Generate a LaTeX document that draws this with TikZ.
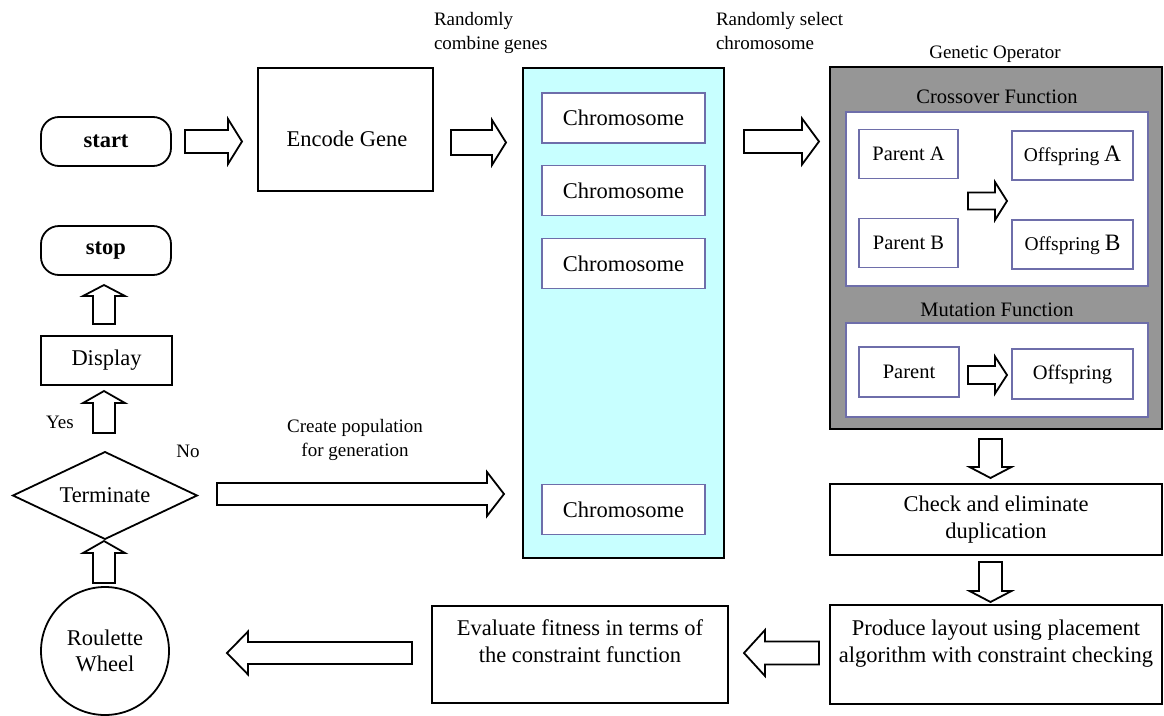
\documentclass[tikz,border=0pt]{standalone}
\usepackage{fontspec}
\setmainfont{Liberation Serif}
\usetikzlibrary{shapes.geometric}

\definecolor{popfill}{RGB}{200,255,255}
\definecolor{opgray}{RGB}{150,150,150}
\definecolor{inedge}{RGB}{110,110,170}

\newcommand\mainfs{\fontsize{22.5}{27}\selectfont}
\newcommand\innerfs{\fontsize{20.5}{25}\selectfont}
\newcommand\notefs{\fontsize{19}{24}\selectfont}
\newcommand\bigletter[1]{{\fontsize{23.5}{25}\selectfont #1}}

% horizontal block arrow: tail x, head-base x, tip x, centre y, shaft half, head half
\newcommand\harr[6]{%
  \draw[blockarrow] (#1,#4-#5) -- (#2,#4-#5) -- (#2,#4-#6) -- (#3,#4)
    -- (#2,#4+#6) -- (#2,#4+#5) -- (#1,#4+#5) -- cycle;}
% vertical block arrow: tail y, head-base y, tip y, centre x, shaft half, head half
\newcommand\varr[6]{%
  \draw[blockarrow] (#4-#5,#1) -- (#4-#5,#2) -- (#4-#6,#2) -- (#4,#3)
    -- (#4+#6,#2) -- (#4+#5,#2) -- (#4+#5,#1) -- cycle;}

\tikzset{
  every node/.style={inner sep=0pt, outer sep=0pt},
  box/.style={draw=black, line width=1.8pt, fill=white, align=center, font=\mainfs},
  terminal/.style={box, rounded corners=18pt},
  inbox/.style={draw=inedge, line width=1.6pt, fill=white, align=center, font=\innerfs},
  gene/.style={draw=inedge, line width=1.6pt, fill=white, font=\mainfs,
    minimum width=163pt, minimum height=50pt},
  note/.style={font=\notefs, align=left},
  blockarrow/.style={draw=black, line width=1.8pt, fill=white, line join=miter},
}

\begin{document}
\begin{tikzpicture}[x=1pt, y=-1pt]
\useasboundingbox (0,0) rectangle (1164,715);

% ---- left column: start, stop, display, decision, roulette
\node[terminal, minimum width=130pt, minimum height=49pt] (start) at (106,141.5) {\textbf{start}};
\node[terminal, minimum width=130pt, minimum height=49pt] (stop) at (106,250.5) {\textbf{stop}};
\node[box, minimum width=131pt, minimum height=49pt] (display) at (106.5,360.5) {Display};
\node[box, shape=diamond, aspect=2.1, minimum width=184pt, minimum height=87pt] (term) at (105,495.5) {Terminate};
\node[box, shape=circle, minimum size=128pt] (wheel) at (105,651) {Roulette\\[-1pt]Wheel};

% ---- encoding
\node[box, minimum width=175pt, minimum height=123pt] (encode) at (345.5,129.5) {};
\node[font=\mainfs] (encodetxt) at (347,138.5) {Encode Gene};

% ---- population of chromosomes
\node[draw=black, line width=1.8pt, fill=popfill, minimum width=201pt, minimum height=490pt] (pop) at (623.5,313) {};
\node[gene] (c1) at (623.5,118) {Chromosome};
\node[gene] (c2) at (623.5,190.5) {Chromosome};
\node[gene] (c3) at (623.5,263.5) {Chromosome};
\node[gene] (c4) at (623.5,509.5) {Chromosome};

% ---- genetic operator
\node[draw=black, line width=1.8pt, fill=opgray, minimum width=332pt, minimum height=362pt] (gop) at (996,248) {};
\node[font=\notefs] (goptitle) at (995,54) {Genetic Operator};
\node[font=\innerfs] (xtitle) at (997,97) {Crossover Function};
\node[inbox, minimum width=302pt, minimum height=174pt] (xover) at (997,199) {};
\node[inbox, minimum width=99pt, minimum height=49pt] (pa) at (908.5,154) {Parent A};
\node[inbox, minimum width=99pt, minimum height=49pt] (pb) at (908.5,243) {Parent B};
\node[inbox, minimum width=121pt, minimum height=49pt] (oa) at (1072.5,155.5) {\fontsize{19.5}{25}\selectfont Offspring \bigletter{A}};
\node[inbox, minimum width=121pt, minimum height=49pt] (ob) at (1072.5,244.5) {\fontsize{19.5}{25}\selectfont Offspring \bigletter{B}};
\node[font=\innerfs] (mtitle) at (997,310) {Mutation Function};
\node[inbox, minimum width=302pt, minimum height=94pt] (mut) at (997,370) {};
\node[inbox, minimum width=100pt, minimum height=50pt] (mp) at (909,372) {Parent};
\node[inbox, minimum width=121pt, minimum height=50pt] (mo) at (1072.5,374) {Offspring};

% ---- post-processing and evaluation
\node[box, minimum width=332pt, minimum height=71pt] (check) at (996,519.5) {Check and eliminate\\duplication};
\node[box, minimum width=332pt, minimum height=99pt] (layout) at (996,654.5) {Produce layout using placement\\algorithm with constraint checking\\\mbox{}};
\node[box, minimum width=296pt, minimum height=97pt] (eval) at (580,654.5) {Evaluate fitness in terms of\\the constraint function\\\mbox{}};

% ---- notes
\node[note, anchor=west] (n1) at (434,33) {Randomly\\combine genes};
\node[note, anchor=west] (n2) at (716,31) {Randomly select\\chromosome};
\node[note, align=center] (n3) at (355,440) {Create population\\for generation};
\node[font=\notefs] (yes) at (60,422) {Yes};
\node[font=\notefs] (no) at (188,451) {No};

% ---- block arrows
\harr{185}{228}{242}{141.5}{11.5}{22.5}
\harr{451}{492}{506}{142.5}{12.5}{22.5}
\harr{744}{802}{819}{141.5}{11.5}{23}
\harr{968}{995}{1007}{201}{8.5}{19}
\harr{968}{995}{1007}{375}{9}{18.5}
\varr{439}{467}{478}{990.5}{11.5}{21}
\varr{562}{591}{602}{990.5}{11.5}{21}
\harr{819}{765}{744}{653}{11.5}{23}
\harr{412}{248}{227}{653}{11}{21.5}
\varr{583}{553}{541}{104}{11}{21}
\varr{433}{403}{391}{104}{11}{21}
\varr{324}{296}{285}{104}{11}{21}
\harr{217}{487}{504}{494}{11}{22}
\end{tikzpicture}
\end{document}
